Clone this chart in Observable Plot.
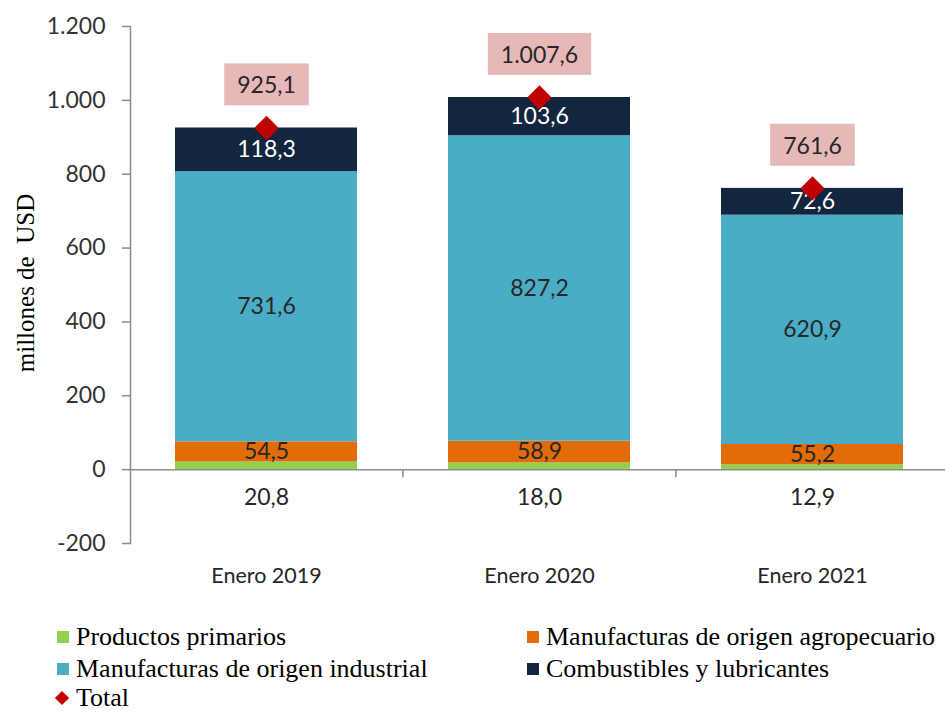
<!DOCTYPE html>
<html>
<head>
<meta charset="utf-8">
<script src="https://cdn.jsdelivr.net/npm/d3@7"></script>
<script src="https://cdn.jsdelivr.net/npm/@observablehq/plot@0.6"></script>
<style>
  body { margin: 0; background: #fff; overflow: hidden; }
  #chart { width: 945px; }
  .legend { font-family: "Liberation Serif", serif; font-size: 26px; color: #000; position: relative; height: 110px; }
  .legend .item { position: absolute; display: flex; align-items: center; white-space: nowrap; line-height: 22px; height: 22px; }
  .legend .sw { width: 12px; height: 12px; margin-right: 7px; display: inline-block; }
  .legend .dia { width: 10px; height: 10px; transform: rotate(45deg); margin: 0 9px 0 2px; display: inline-block; }
</style>
</head>
<body>
<div id="chart"></div>
<div class="legend" id="legend"></div>
<script>
const categories = ["Enero 2019", "Enero 2020", "Enero 2021"];
const seriesNames = ["Productos primarios", "Manufacturas de origen agropecuario", "Manufacturas de origen industrial", "Combustibles y lubricantes"];
const seriesColors = ["#92D050", "#E36C0A", "#4BACC6", "#132640"];
const primarios = [20.8, 18.0, 12.9];
const agropecuario = [54.5, 58.9, 55.2];
const industrial = [731.6, 827.2, 620.9];
const combustibles = [118.3, 103.6, 72.6];
const totals = [925.1, 1007.6, 761.6];
const yTicks = [-200, 0, 200, 400, 600, 800, 1000, 1200];
const yLabel = "millones de\u00A0 USD";
const totalLabel = "Total";

const locale = d3.formatLocale({decimal: ",", thousands: ".", grouping: [3], currency: ["$", ""], minus: "-"});
const fmt1 = locale.format(",.1f");
const fmtTick = locale.format(",d");

const seriesValues = [primarios, agropecuario, industrial, combustibles];
const table = [];
categories.forEach((c, i) => {
  seriesNames.forEach((s, j) => table.push({cat: c, series: s, value: seriesValues[j][i]}));
});
const totalRows = categories.map((c, i) => ({cat: c, total: totals[i]}));
const totalTexts = new Set(totals.map(fmt1));

const xRange = [130, 949];
const padIn = 0.333, padOut = 0.165;
const step = (xRange[1] - xRange[0]) / (categories.length - padIn + 2 * padOut);

const plot = Plot.plot({
  width: 945,
  height: 603,
  marginLeft: 130,
  marginRight: 0,
  marginTop: 26,
  marginBottom: 60,
  style: {fontFamily: "Lato, sans-serif", fontSize: "23px", color: "#262626", background: "#fff"},
  x: {domain: categories, range: xRange, paddingInner: padIn, paddingOuter: padOut},
  y: {domain: [-200, 1200], ticks: yTicks},
  color: {domain: seriesNames, range: seriesColors},
  marks: [
    Plot.barY(table, {x: "cat", y: "value", fill: "series", order: seriesNames}),
    Plot.ruleY([0], {stroke: "#8c8c8c", strokeWidth: 1.5}),
    Plot.ruleX(categories.slice(1), {x: d => d, dx: -step / 2, y1: 0, y2: 0, insetBottom: -8, stroke: "#8c8c8c", strokeWidth: 1.5}),
    Plot.frame({anchor: "left", stroke: "#8c8c8c", strokeWidth: 1.5}),
    Plot.axisY({ticks: yTicks, tickSize: 8, tickPadding: 17, tickFormat: fmtTick, fontSize: 23, stroke: "#8c8c8c", strokeWidth: 1.5, fill: "#333", label: null}),
    Plot.axisX({tickSize: 0, tickPadding: 24, fontSize: 21.5, fill: "#262626", label: null}),
    Plot.text([yLabel], {text: d => d, frameAnchor: "left", textAnchor: "middle", rotate: -90, dx: -105, dy: -2, fontFamily: "Liberation Serif, serif", fontSize: 25, fill: "#000"}),
    // primarios labels below the axis
    Plot.text(table.filter(d => d.series === seriesNames[0]), {x: "cat", y: 0, dy: 28, text: d => fmt1(d.value), fill: "#262626"}),
    // segment labels, dark text
    Plot.text(table, Plot.stackY({x: "cat", y: "value", z: "series", order: seriesNames,
      text: d => (d.series === seriesNames[1] || d.series === seriesNames[2]) ? fmt1(d.value) : null, fill: "#262626"})),
    // segment labels, white text
    Plot.text(table, Plot.stackY({x: "cat", y: "value", z: "series", order: seriesNames,
      text: d => d.series === seriesNames[3] ? fmt1(d.value) : null, fill: "#ffffff"})),
    // totals
    Plot.text(totalRows, {x: "cat", y: "total", dy: -42, text: d => fmt1(d.total), fill: "#262626"}),
    Plot.dot(totalRows, {x: "cat", y: "total", symbol: "diamond2", r: 11, fill: "#C00000", stroke: null})
  ]
});
document.getElementById("chart").appendChild(plot);

// pink boxes behind total labels, sized from the rendered text
const svgNS = "http://www.w3.org/2000/svg";
plot.querySelectorAll("text").forEach(t => {
  if (!totalTexts.has(t.textContent)) return;
  const b = t.getBBox();
  const r = document.createElementNS(svgNS, "rect");
  const cx = b.x + b.width / 2, cy = b.y + b.height / 2;
  r.setAttribute("x", cx - b.width / 2 - 13);
  r.setAttribute("width", b.width + 26);
  r.setAttribute("y", cy - 21);
  r.setAttribute("height", 42);
  r.setAttribute("fill", "#E6B9B8");
  const tr = t.getAttribute("transform");
  if (tr) r.setAttribute("transform", tr);
  t.parentNode.insertBefore(r, t);
});

// legend
const legend = document.getElementById("legend");
const pos = [
  {x: 57, y: 23}, {x: 527, y: 23}, {x: 57, y: 55}, {x: 527, y: 55}
];
seriesNames.forEach((s, i) => {
  const d = document.createElement("div");
  d.className = "item";
  d.style.left = pos[i].x + "px";
  d.style.top = pos[i].y + "px";
  d.innerHTML = `<span class="sw" style="background:${seriesColors[i]}"></span><span>${s}</span>`;
  legend.appendChild(d);
});
const tItem = document.createElement("div");
tItem.className = "item";
tItem.style.left = "55px";
tItem.style.top = "84px";
tItem.innerHTML = `<span class="dia" style="background:#C00000"></span><span>${totalLabel}</span>`;
legend.appendChild(tItem);
</script>
</body>
</html>
